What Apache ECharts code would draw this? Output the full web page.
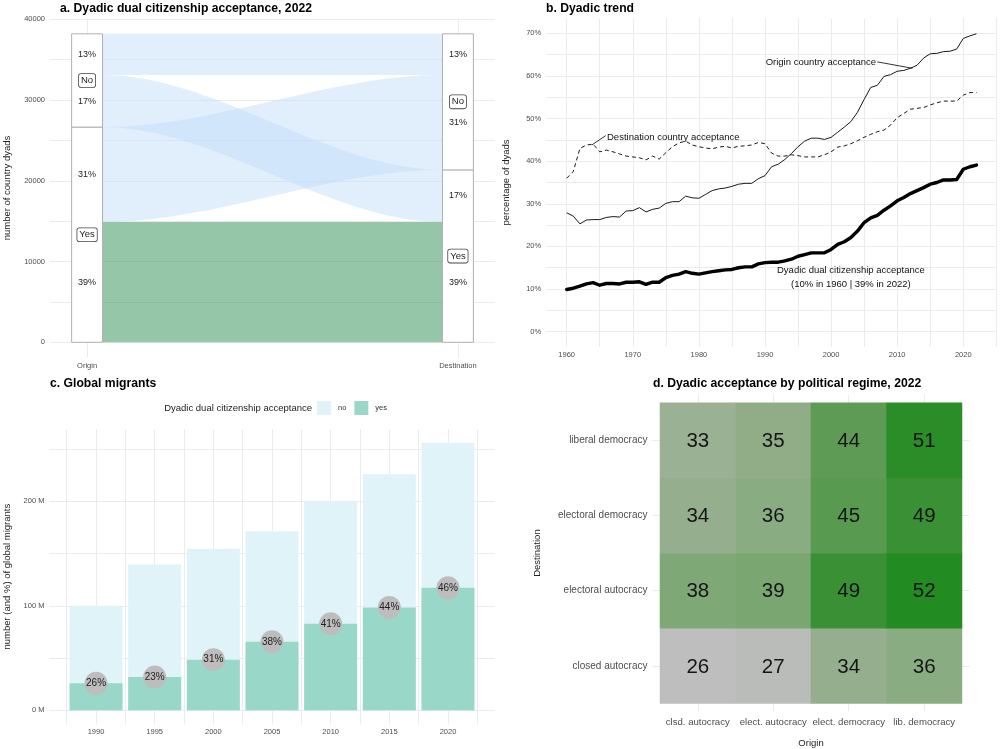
<!DOCTYPE html>
<html><head><meta charset="utf-8">
<script src="https://cdn.jsdelivr.net/npm/echarts@6/dist/echarts.min.js"></script>
<style>html,body{margin:0;padding:0;background:#fff}#c{width:1000px;height:749px}</style>
</head><body><div id="c"></div>
<script>
// ================= DATA =================
// a. alluvial flows (origin stratum -> destination stratum)
const flowOrigin = ['Yes', 'Yes', 'No', 'No'];
const flowDest   = ['Yes', 'No', 'Yes', 'No'];
const flowCount  = [14900, 11750, 6450, 5100];
const alluvialAxes = ['Origin', 'Destination'];
const aTickLabels = [0, 10000, 20000, 30000, 40000];

// b. dyadic trend
const years = [1960,1961,1962,1963,1964,1965,1966,1967,1968,1969,
  1970,1971,1972,1973,1974,1975,1976,1977,1978,1979,
  1980,1981,1982,1983,1984,1985,1986,1987,1988,1989,
  1990,1991,1992,1993,1994,1995,1996,1997,1998,1999,
  2000,2001,2002,2003,2004,2005,2006,2007,2008,2009,
  2010,2011,2012,2013,2014,2015,2016,2017,2018,2019,
  2020,2021,2022];
const originAcc = [27.9,27.1,25.3,26.2,26.3,26.3,26.8,27.0,26.9,28.3,
  28.4,29.1,28.1,28.7,29.0,30.1,30.5,30.5,31.8,31.4,
  31.3,32.2,33.1,33.5,33.7,34.1,34.6,34.8,34.8,35.9,
  36.6,38.7,39.3,40.4,41.8,43.4,44.7,45.4,45.4,45.1,
  45.6,46.8,48.0,49.3,51.5,54.5,57.3,57.8,59.9,60.3,
  61.1,61.3,61.8,62.5,64.2,65.2,65.3,65.7,65.8,66.3,
  68.8,69.4,69.9];
const destAcc = [36.0,37.6,43.0,43.8,44.0,42.2,42.6,42.2,41.7,41.2,
  41.0,40.8,40.3,41.2,40.5,42.0,43.4,44.3,44.7,43.8,
  43.4,43.1,42.9,43.3,43.5,43.1,43.5,43.6,43.8,44.4,
  44.1,41.9,41.2,41.2,41.5,41.3,41.0,41.0,41.0,41.5,
  42.2,43.3,43.6,44.1,44.8,45.6,46.3,46.9,47.3,48.5,
  50.2,51.2,52.2,52.4,52.6,53.2,53.7,54.1,54.1,54.1,
  55.5,56.1,56.1];
const dyadAcc = [9.9,10.2,10.7,11.2,11.5,10.9,11.3,11.3,11.2,11.6,
  11.6,11.7,11.1,11.6,11.6,12.7,13.2,13.5,14.1,13.7,
  13.5,13.8,14.1,14.3,14.5,14.6,15.0,15.2,15.2,15.9,
  16.2,16.3,16.3,16.6,17.0,17.7,18.1,18.5,18.5,18.5,
  19.3,20.5,21.1,22.1,23.6,25.6,26.7,27.3,28.5,29.5,
  30.7,31.5,32.4,33.1,33.8,34.6,35.0,35.6,35.6,35.7,
  38.1,38.7,39.1];
const bXTickLabels = [1960,1970,1980,1990,2000,2010,2020];
const bYTickLabels = [0,10,20,30,40,50,60,70];

// c. global migrants (millions)
const migYears = [1990,1995,2000,2005,2010,2015,2020];
const migYes = [25.8,31.8,48.4,65.6,82.8,98.4,117.2];
const migNo  = [74.2,107.7,106.1,105.7,117.2,127.4,138.5];
const migPct = [26,23,31,38,41,44,46];
const cYTickLabels = [0,100,200];

// d. acceptance by regime (rows: destination bottom->top, cols: origin)
const regimeOrigin = ['clsd. autocracy','elect. autocracy','elect. democracy','lib. democracy'];
const regimeDest = ['closed autocracy','electoral autocracy','electoral democracy','liberal democracy'];
const regimeValues = [
  [26,27,34,36],
  [38,39,49,52],
  [34,36,45,49],
  [33,35,44,51]
];

// ================= STYLE =================
const FONT = '"Liberation Sans", Arial, sans-serif';
const GRID = '#ebebeb';
const TICK = '#4d4d4d';
const AX_TITLE = '#222';

function range(a, b, step){ const r=[]; for(let v=a; v<=b+1e-9; v+=step) r.push(+v.toFixed(4)); return r; }

function axis(gridIndex, min, max, lineVals, labelVals, fmt, fs, margin, extra){
  return Object.assign({
    type:'value', gridIndex, min, max,
    axisLine:{show:false},
    axisTick:{show:false, customValues: lineVals},
    axisLabel:{customValues: labelVals, formatter: fmt, fontSize: fs, color: TICK, fontFamily: FONT, margin},
    splitLine:{show:true, lineStyle:{color: GRID, width: 1}},
    minorSplitLine:{show:false}
  }, extra || {});
}

// ---- a: derived stacking positions
const total = flowCount.reduce((s,v)=>s+v,0);
const catOrder = ['Yes','No'];
function stackSide(cats, other){
  const idx = flowCount.map((_,i)=>i).sort((a,b)=>
    (catOrder.indexOf(cats[a])-catOrder.indexOf(cats[b])) || (catOrder.indexOf(other[a])-catOrder.indexOf(other[b])));
  const res=[]; let acc=0;
  idx.forEach(i=>{ res[i]=[acc, acc+flowCount[i]]; acc+=flowCount[i]; });
  return res;
}
const oPos = stackSide(flowOrigin, flowDest);
const dPos = stackSide(flowDest, flowOrigin);
const HALF = 1/24;
const flowData = flowCount.map((c,i)=>[oPos[i][0],oPos[i][1],dPos[i][0],dPos[i][1],(flowOrigin[i]==='Yes'&&flowDest[i]==='Yes')?1:0]);
function strata(side, cats){
  const out=[];
  catOrder.forEach(cat=>{
    let lo=Infinity, hi=-Infinity;
    const pos = side===1 ? oPos : dPos;
    cats.forEach((c,i)=>{ if(c===cat){ lo=Math.min(lo,pos[i][0]); hi=Math.max(hi,pos[i][1]); } });
    out.push([side, lo, hi, cat]);
  });
  return out;
}
const strataData = strata(1, flowOrigin).concat(strata(2, flowDest));
const pctLabels = [];
flowCount.forEach((c,i)=>{
  const t = Math.round(c/total*100)+'%';
  pctLabels.push([1,(oPos[i][0]+oPos[i][1])/2,t]);
  pctLabels.push([2,(dPos[i][0]+dPos[i][1])/2,t]);
});

// ---- b annotations (data coordinates)
const bNotes = [
  [2006.8, 63.3, 'Origin country acceptance', 'right'],
  [1966.1, 45.7, 'Destination country acceptance', 'left'],
  [2003.0, 12.8, 'Dyadic dual citizenship acceptance\n(10% in 1960 | 39% in 2022)', 'center']
];
const bLeaders = [
  [2007.0, 63.3, 2012.3, 61.8],
  [1965.9, 46.0, 1963.8, 43.8]
];

// ================= CHART =================
const chart = echarts.init(document.getElementById('c'), null, {width:1000, height:749});

const titleStyle = {fontFamily: FONT, fontWeight:'bold', fontSize: 12.2, color:'#000'};
const option = {
  animation: false,
  backgroundColor: '#fff',
  textStyle: {fontFamily: FONT},
  title: [
    {text:'a. Dyadic dual citizenship acceptance, 2022', left:60, top:2.5, padding:0, textStyle:titleStyle},
    {text:'b. Dyadic trend', left:546, top:2.5, padding:0, textStyle:titleStyle},
    {text:'c. Global migrants', left:50, top:377.5, padding:0, textStyle:titleStyle},
    {text:'d. Dyadic acceptance by political regime, 2022', left:653, top:377.5, padding:0, textStyle:titleStyle},
    {text:'Dyadic dual citizenship acceptance', right: 1000-312, top:403, padding:0,
     textStyle:{fontFamily:FONT, fontWeight:'normal', fontSize:9.5, color:'#222'}}
  ],
  legend: {
    data:[{name:'no', icon:'rect'},{name:'yes', icon:'rect'}],
    left: 317, top: 401, itemWidth: 14, itemHeight: 14, itemGap: 8, padding: 0,
    selectedMode: false,
    textStyle:{fontSize:7.5, color:'#333', fontFamily:FONT, padding:[0,0,0,2]}
  },
  grid: [
    {left:50, top:18.4, width:445, height:339.3},
    {left:546.2, top:18.4, width:450.8, height:328.2},
    {left:49.4, top:429.7, width:445.2, height:294},
    {left:652.5, top:395.2, width:317, height:316.3}
  ],
  xAxis: [
    axis(0, 0.9, 2.1, [1,2], [1,2], v => alluvialAxes[Math.round(v)-1], 7.5, 4),
    axis(1, 1956.9, 2025.1, range(1960,2025,5), bXTickLabels, v => String(v), 7.5, 4),
    axis(2, 1986.025, 2023.975, range(1987.5,2022.5,2.5), migYears, v => String(v), 7.5, 4),
    axis(3, 0.4, 4.6, [1,2,3,4], [1,2,3,4], v => regimeOrigin[Math.round(v)-1], 9.6, 6,
      {name:'Origin', nameLocation:'middle', nameGap:27, nameTextStyle:{fontSize:9.5, color:AX_TITLE, fontFamily:FONT}})
  ],
  yAxis: [
    axis(0, -1910, 40110, range(0,40000,5000), aTickLabels, v => String(v), 7.5, 5,
      {name:'number of country dyads', nameLocation:'middle', nameGap:38, nameTextStyle:{fontSize:9.5, color:AX_TITLE, fontFamily:FONT}}),
    axis(1, -3.5, 73.5, range(0,70,5), bYTickLabels, v => v+'%', 7.5, 5,
      {name:'percentage of dyads', nameLocation:'middle', nameGap:35, nameTextStyle:{fontSize:9.5, color:AX_TITLE, fontFamily:FONT}}),
    axis(2, -12.8, 268.5, range(0,250,50), cYTickLabels, v => v+' M', 7.5, 5,
      {name:'number (and %) of global migrants', nameLocation:'middle', nameGap:37, nameTextStyle:{fontSize:9.5, color:AX_TITLE, fontFamily:FONT}}),
    axis(3, 0.4, 4.6, [1,2,3,4], [1,2,3,4], v => regimeDest[Math.round(v)-1], 10, 5,
      {name:'Destination', nameLocation:'middle', nameGap:110, nameTextStyle:{fontSize:9.5, color:AX_TITLE, fontFamily:FONT}})
  ],
  visualMap: {
    show:false, type:'continuous', seriesIndex: 9, dimension: 2, min: 26, max: 52,
    inRange:{color:['#bebebe','#9db297','#7aa671','#55994c','#228b22']}
  },
  series: [
    // 0: flows
    {type:'custom', xAxisIndex:0, yAxisIndex:0, z:2, data: flowData,
     renderItem(params, api){
       const o0=api.value(0), o1=api.value(1), d0=api.value(2), d1=api.value(3), yes=api.value(4);
       const xa=1+HALF, xb=2-HALF, N=48, pts=[];
       for(let k=0;k<=N;k++){ const t=k/N, s=t*t*(3-2*t); pts.push(api.coord([xa+(xb-xa)*t, o0+(d0-o0)*s])); }
       for(let k=N;k>=0;k--){ const t=k/N, s=t*t*(3-2*t); pts.push(api.coord([xa+(xb-xa)*t, o1+(d1-o1)*s])); }
       return {type:'polygon', shape:{points:pts}, style:{fill: yes ? 'rgba(45,141,81,0.5)' : 'rgba(195,222,250,0.5)'}};
     }},
    // 1: strata boxes + labels
    {type:'custom', xAxisIndex:0, yAxisIndex:0, z:3, data: strataData,
     renderItem(params, api){
       const s=api.value(0), lo=api.value(1), hi=api.value(2);
       const p0=api.coord([s-HALF, hi]), p1=api.coord([s+HALF, lo]);
       const mid=api.coord([s, (lo+hi)/2]);
       const label = strataData[params.dataIndex][3];
       return {type:'group', children:[
         {type:'rect', shape:{x:p0[0], y:p0[1], width:p1[0]-p0[0], height:p1[1]-p0[1]},
          style:{fill:'#fff', stroke:'#b0b0b0', lineWidth:1}},
         {type:'text', x:mid[0], y:mid[1], z2:5, style:{text:label, fontSize:9.5, fontFamily:FONT, fill:'#222',
          align:'center', verticalAlign:'middle', backgroundColor:'#fff', borderColor:'#444', borderWidth:0.8,
          borderRadius:2, padding:[2,2,1,2]}}
       ]};
     }},
    // 2: percentage labels
    {type:'custom', xAxisIndex:0, yAxisIndex:0, z:4, data: pctLabels.map(d=>[d[0],d[1]]),
     renderItem(params, api){
       const p=api.coord([api.value(0), api.value(1)]);
       return {type:'text', x:p[0], y:p[1], style:{text:pctLabels[params.dataIndex][2], fontSize:9, fontFamily:FONT,
         fill:'#222', align:'center', verticalAlign:'middle'}};
     }},
    // 3-5: trend lines
    {type:'line', name:'Origin country acceptance', xAxisIndex:1, yAxisIndex:1, showSymbol:false, z:3,
     data: years.map((y,i)=>[y, originAcc[i]]), lineStyle:{color:'#000', width:0.9}},
    {type:'line', name:'Destination country acceptance', xAxisIndex:1, yAxisIndex:1, showSymbol:false, z:3,
     data: years.map((y,i)=>[y, destAcc[i]]), lineStyle:{color:'#000', width:0.9, type:[4,3]}},
    {type:'line', name:'Dyadic dual citizenship acceptance', xAxisIndex:1, yAxisIndex:1, showSymbol:false, z:3,
     data: years.map((y,i)=>[y, dyadAcc[i]]), lineStyle:{color:'#000', width:3.4, join:'round', cap:'round'}},
    // 6: annotations b
    {type:'custom', xAxisIndex:1, yAxisIndex:1, z:5, data: bNotes.map(n=>[n[0],n[1]]),
     renderItem(params, api){
       const p=api.coord([api.value(0), api.value(1)]);
       const n=bNotes[params.dataIndex];
       return {type:'text', x:p[0], y:p[1], style:{text:n[2], fontSize:9.5, fontFamily:FONT, fill:'#111',
         align:n[3], verticalAlign:'middle', lineHeight:14}};
     }},
    // 7: leader lines b
    {type:'custom', xAxisIndex:1, yAxisIndex:1, z:5, data: bLeaders,
     renderItem(params, api){
       const a=api.coord([api.value(0), api.value(1)]), b=api.coord([api.value(2), api.value(3)]);
       return {type:'line', shape:{x1:a[0], y1:a[1], x2:b[0], y2:b[1]}, style:{stroke:'#000', lineWidth:0.8}};
     }},
    // 8: bars: whole migrant stock (no + yes) drawn behind
    {type:'bar', name:'no', xAxisIndex:2, yAxisIndex:2, barWidth:53, barGap:'-100%', z:2,
     data: migYears.map((y,i)=>[y, migYes[i] + migNo[i]]), itemStyle:{color:'#e0f3f8'}},
    // 9: heatmap
    {type:'custom', xAxisIndex:3, yAxisIndex:3, z:2, encode:{x:0, y:1},
     data: (function(){ const d=[]; regimeValues.forEach((row,r)=>row.forEach((v,c)=>d.push([c+1, r+1, v]))); return d; })(),
     renderItem(params, api){
       const x=api.value(0), y=api.value(1);
       const p0=api.coord([x-0.5, y+0.5]), p1=api.coord([x+0.5, y-0.5]);
       const cx=(p0[0]+p1[0])/2, cy=(p0[1]+p1[1])/2;
       return {type:'group', children:[
         {type:'rect', shape:{x:p0[0]-0.3, y:p0[1]-0.3, width:p1[0]-p0[0]+0.6, height:p1[1]-p0[1]+0.6}, style:{fill: api.visual('color')}},
         {type:'text', x:cx, y:cy+1, z2:3, style:{text:String(api.value(2)), fontSize:20.5, fontFamily:FONT, fill:'#151515',
           align:'center', verticalAlign:'middle'}}
       ]};
     }},
    // 10: bars: yes share in front
    {type:'bar', name:'yes', xAxisIndex:2, yAxisIndex:2, barWidth:53, barGap:'-100%', z:3,
     data: migYears.map((y,i)=>[y, migYes[i]]), itemStyle:{color:'#99d8c9'}},
    // 11: percentage circles
    {type:'scatter', xAxisIndex:2, yAxisIndex:2, z:5, symbolSize:23,
     data: migYears.map((y,i)=>[y, migYes[i], migPct[i]]),
     itemStyle:{color:'#bdbdbd', opacity:1},
     label:{show:true, position:'inside', formatter: p => p.value[2]+'%', fontSize:10, color:'#222', fontFamily:FONT}}
  ]
};
chart.setOption(option);
</script>
</body></html>
